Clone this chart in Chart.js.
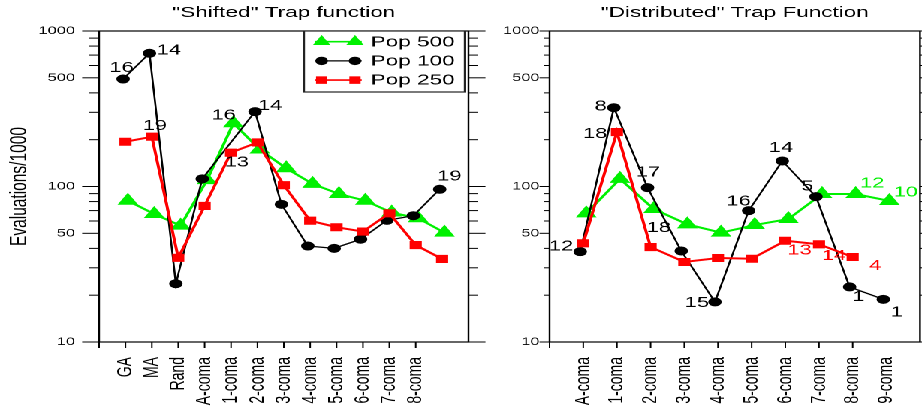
<!DOCTYPE html>
<html>
<head>
<meta charset="utf-8">
<script src="https://cdn.jsdelivr.net/npm/chart.js@4.4.1/dist/chart.umd.min.js"></script>
<style>
  html, body { margin: 0; padding: 0; background: #fff; overflow: hidden; }
  /* the reference is stretched sideways, so the whole figure is drawn narrow and widened */
  #wrap { position: relative; width: 614px; height: 413px; transform: scaleX(1.50163); transform-origin: 0 0; }
  #wrap canvas { position: absolute; top: 0; }
  #leftChart { left: 0; }
  #rightChart { left: 327px; }
</style>
</head>
<body>
<div id="wrap">
  <canvas id="leftChart" width="327" height="413"></canvas>
  <canvas id="rightChart" width="287" height="413"></canvas>
</div>
<script>
// Evaluations/1000
var leftCategories = ['GA', 'MA', 'Rand', 'A-coma', '1-coma', '2-coma', '3-coma', '4-coma', '5-coma', '6-coma', '7-coma', '8-coma', ''];
var leftPop500 = [81, 66.5, 56, 110, 255, 173, 131, 104, 89.5, 81, 68, 62.5, 50.5];
var leftPop100 = [491, 719, 23.7, 112, null, 303, 76.8, 41.4, 40, 45.8, 60.6, 64.9, 96];
var leftPop250 = [194, 209, 34.8, 75, 165, 192, 102, 60.3, 54.7, 51.3, 67.2, 42, 34.2];

var rightCategories = ['A-coma', '1-coma', '2-coma', '3-coma', '4-coma', '5-coma', '6-coma', '7-coma', '8-coma', '9-coma'];
var rightPop500 = [67.2, 112, 71.7, 57.1, 50.5, 56.5, 61.8, 89.5, 89.5, 80.7];
var rightPop100 = [38.1, 321, 98.3, 38.5, 18.1, 69.9, 146, 86, 22.6, 18.8];
var rightPop250 = [43.1, 224, 40.8, 32.7, 34.7, 34.3, 44.8, 42.5, 35.2, null];

var yTickValues = [10, 20, 30, 40, 50, 60, 70, 80, 90, 100, 200, 300, 400, 500, 600, 700, 800, 900, 1000];
var yLabelValues = [10, 50, 100, 500, 1000];

// numbers written next to points: [series, point index, text]
var leftNotes = [['p100', 0, '16'], ['p100', 1, '14'], ['p250', 1, '19'], ['p500', 4, '16'],
                 ['p250', 4, '13'], ['p100', 5, '14'], ['p100', 12, '19']];
var rightNotes = [['p100', 0, '12'], ['p100', 1, '8'], ['p250', 1, '18'], ['p100', 2, '17'],
                  ['p100', 3, '18'], ['p100', 4, '15'], ['p100', 5, '16'], ['p100', 6, '14'],
                  ['p100', 7, '5'], ['p100', 8, '1'], ['p100', 9, '1'], ['p250', 6, '13'],
                  ['p250', 7, '14'], ['p250', 8, '4'], ['p500', 8, '12'], ['p500', 9, '10']];

// where each note sits relative to its point: [dx, dy, colour]
var leftNotePlace = [[-1, -11, '#000'], [13, -3, '#000'], [2, -10.5, '#000'], [-6.4, -8, '#000'],
                     [3.8, 9.6, '#000'], [10, -5.7, '#000'], [6.5, -12.6, '#000']];
var rightNotePlace = [[-12.7, -5, '#000'], [-8.8, -1, '#000'], [-14.5, 2, '#000'], [0.4, -15, '#000'],
                      [-15, -23, '#000'], [-12, 1.3, '#000'], [-6.7, -9, '#000'], [-0.9, -12.7, '#000'],
                      [-5.7, -10, '#000'], [6, 10.3, '#000'], [8.9, 13, '#000'], [9.5, 10, '#f00'],
                      [10, 11.7, '#f00'], [15, 9, '#f00'], [11, -10.7, '#00f000'], [11, -8.3, '#00f000']];

var FONT = "'Liberation Sans', Arial, Helvetica, sans-serif";
Chart.defaults.font.family = FONT;
Chart.defaults.color = '#000';

var seriesStyle = {
    p500: { label: 'Pop 500', color: '#00f000', pointStyle: 'triangle', radius: 7, width: 2, shift: 0.09 },
    p100: { label: 'Pop 100', color: '#000000', pointStyle: 'circle', radius: 4, width: 1.3, shift: -0.09 },
    p250: { label: 'Pop 250', color: '#ff0000', pointStyle: 'rect', radius: 5, width: 2, shift: 0 }
};
var legendOrder = ['p500', 'p100', 'p250'];

function makeDataset(key, values) {
    var s = seriesStyle[key];
    return {
        key: key,
        label: s.label,
        data: values.map(function (v, i) { return { x: i + 1 + s.shift, y: v }; }),
        borderColor: s.color,
        backgroundColor: s.color,
        borderWidth: s.width,
        pointStyle: s.pointStyle,
        pointRadius: s.radius,
        pointBorderWidth: 1,
        pointBorderColor: s.color,
        pointBackgroundColor: s.color,
        spanGaps: true,
        tension: 0
    };
}

function marker(ctx, style, x, y, r, color) {
    ctx.fillStyle = color;
    ctx.beginPath();
    if (style === 'triangle') {
        ctx.moveTo(x, y - r);
        ctx.lineTo(x + r * 0.866, y + r / 2);
        ctx.lineTo(x - r * 0.866, y + r / 2);
        ctx.closePath();
    } else if (style === 'circle') {
        ctx.arc(x, y, r, 0, Math.PI * 2);
    } else {
        var h = r * Math.SQRT1_2;
        ctx.rect(x - h, y - h, 2 * h, 2 * h);
    }
    ctx.fill();
}

// frame, tick marks, point notes and the boxed legend
var decor = {
    id: 'decor',
    afterDraw: function (chart, args, opts) {
        var ctx = chart.ctx, a = chart.chartArea;
        var xs = chart.scales.x, ys = chart.scales.y;
        ctx.save();
        ctx.strokeStyle = '#000';

        function seg(x1, y1, x2, y2) {
            ctx.beginPath(); ctx.moveTo(x1, y1); ctx.lineTo(x2, y2); ctx.stroke();
        }

        ctx.lineWidth = 1.2;
        ctx.strokeRect(a.left, a.top, a.right - a.left, a.bottom - a.top);

        ctx.lineWidth = 1;
        yTickValues.forEach(function (v) {
            var y = ys.getPixelForValue(v);
            var len = yLabelValues.indexOf(v) >= 0 ? opts.major : opts.minor;
            seg(a.left - len, y, a.left, y);
            seg(a.right, y, a.right + len, y);
        });
        for (var i = 0; i <= opts.xTicks; i++) {
            var x = xs.getPixelForValue(i);
            seg(x, a.bottom, x, a.bottom + 6);
        }

        ctx.font = '14.5px ' + FONT;
        ctx.textAlign = 'center';
        ctx.textBaseline = 'middle';
        opts.notes.forEach(function (n, k) {
            var idx = chart.data.datasets.findIndex(function (d) { return d.key === n[0]; });
            var pt = chart.getDatasetMeta(idx).data[n[1]];
            var p = opts.place[k];
            ctx.fillStyle = p[2];
            ctx.fillText(n[2], pt.x + p[0], pt.y + p[1]);
        });

        if (opts.legend) {
            var bx = a.right - 109.5, by = a.top, bw = 107, bh = 61;
            ctx.fillStyle = '#fff';
            ctx.fillRect(bx, by, bw, bh);
            ctx.lineWidth = 1.2;
            ctx.strokeStyle = '#222';
            ctx.strokeRect(bx, by, bw, bh);
            ctx.font = '15px ' + FONT;
            ctx.textAlign = 'left';
            legendOrder.forEach(function (key, r) {
                var s = seriesStyle[key];
                var y = by + 10.7 + r * 19.2;
                ctx.strokeStyle = s.color;
                ctx.lineWidth = s.width === 2 ? 1.6 : 1.2;
                seg(bx + 7.3, y, bx + 38.4, y);
                var mr = key === 'p500' ? 6.7 : (key === 'p100' ? 4.2 : 5.3);
                marker(ctx, s.pointStyle, bx + 11.7, y, mr, s.color);
                marker(ctx, s.pointStyle, bx + 33.9, y, mr, s.color);
                ctx.fillStyle = '#000';
                ctx.fillText(s.label, bx + 44.4, y + 0.5);
            });
        }
        ctx.restore();
    }
};

function makeChart(id, cfg) {
    var ctx = document.getElementById(id).getContext('2d');
    return new Chart(ctx, {
        type: 'line',
        data: {
            datasets: [makeDataset('p250', cfg.p250), makeDataset('p100', cfg.p100), makeDataset('p500', cfg.p500)]
        },
        options: {
            responsive: false,
            animation: false,
            devicePixelRatio: 2,
            layout: { autoPadding: false, padding: { left: 0, right: cfg.padRight, top: 0, bottom: 0 } },
            plugins: {
                legend: { display: false },
                tooltip: { enabled: false },
                title: {
                    display: true, text: cfg.title, fullSize: false, color: '#000',
                    font: { size: 15, weight: 'normal' }, padding: { top: 4, bottom: 9 }
                },
                decor: {
                    major: cfg.major, minor: cfg.minor, xTicks: cfg.categories.length - 1,
                    notes: cfg.notes, place: cfg.place, legend: cfg.legend
                }
            },
            scales: {
                x: {
                    type: 'linear', min: 0, max: cfg.xMax,
                    afterFit: function (s) {
                        s.height = 71;
                        s.paddingLeft = 0;
                        s.paddingRight = 0;
                    },
                    grid: { display: false, drawTicks: false },
                    border: { display: false },
                    ticks: {
                        stepSize: 1, autoSkip: false, maxTicksLimit: 100,
                        minRotation: 90, maxRotation: 90, padding: 15,
                        color: '#000', font: { size: 14 },
                        callback: function (v) { return cfg.categories[v - 1] || ''; }
                    }
                },
                y: {
                    type: 'logarithmic', min: 10, max: 1000,
                    afterFit: function (s) {
                        s.width = cfg.yWidth;
                        s.paddingTop = 0;
                        s.paddingBottom = 0;
                    },
                    afterBuildTicks: function (s) {
                        s.ticks = yTickValues.map(function (v) { return { value: v }; });
                    },
                    grid: { display: false, drawTicks: false },
                    border: { display: false },
                    ticks: {
                        autoSkip: false, padding: cfg.yPad, color: '#000', font: { size: 11 },
                        callback: function (v) { return yLabelValues.indexOf(v) >= 0 ? String(v) : ''; }
                    },
                    title: {
                        display: !!cfg.yTitle, text: cfg.yTitle || '', color: '#000',
                        font: { size: 15.5 }, padding: { top: 4, bottom: 0 }
                    }
                }
            }
        },
        plugins: [decor]
    });
}

makeChart('leftChart', {
    title: '"Shifted" Trap function',
    categories: leftCategories,
    p500: leftPop500, p100: leftPop100, p250: leftPop250,
    xMax: 14, yWidth: 66, padRight: 15, yPad: 16, yTitle: 'Evaluations/1000',
    major: 11.3, minor: 6.5,
    notes: leftNotes, place: leftNotePlace, legend: true
});

makeChart('rightChart', {
    title: '"Distributed" Trap Function',
    categories: rightCategories,
    p500: rightPop500, p100: rightPop100, p250: rightPop250,
    xMax: 11, yWidth: 39, padRight: 1.3, yPad: 6.7, yTitle: null,
    major: 6.7, minor: 4,
    notes: rightNotes, place: rightNotePlace, legend: false
});
</script>
</body>
</html>
